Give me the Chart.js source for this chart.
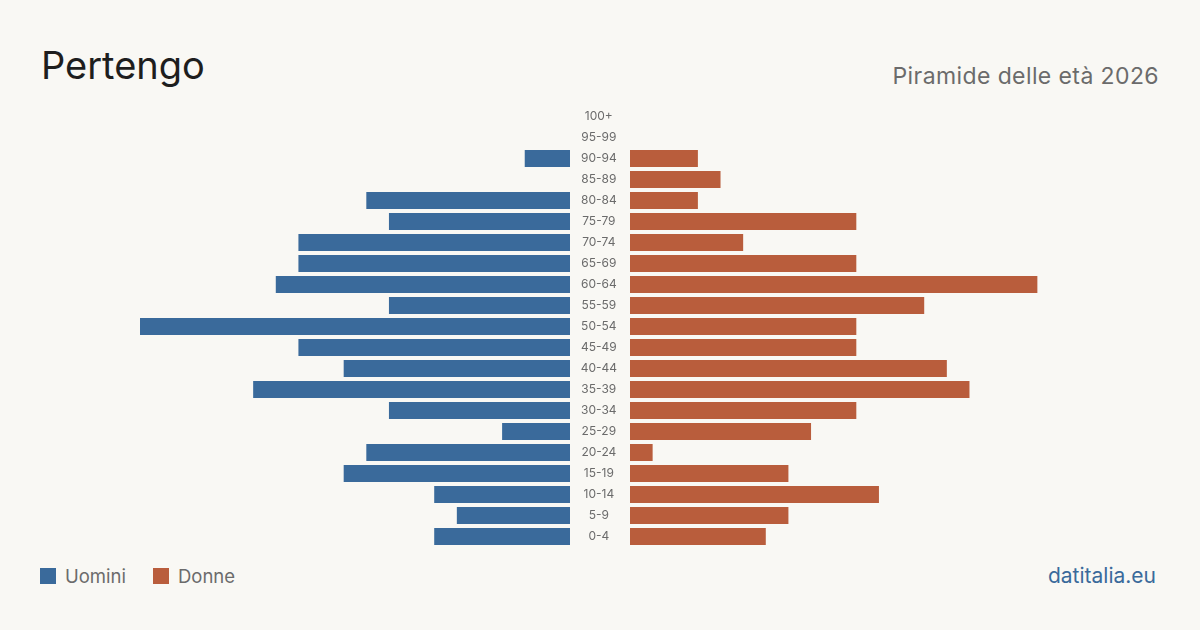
<!DOCTYPE html>
<html>
<head>
<meta charset="utf-8">
<script src="https://cdn.jsdelivr.net/npm/chart.js@4/dist/chart.umd.min.js"></script>
<style>
  body { margin: 0; background: #f9f8f4; font-family: Inter, "Noto Sans", sans-serif; }
  #wrap { position: relative; width: 1200px; height: 630px; overflow: hidden; }
  .title { position: absolute; left: 41px; top: 46px; font-size: 38px; color: #1e1e1e; line-height: 1; }
  .sub { position: absolute; right: 41px; top: 65px; font-size: 23px; letter-spacing: 0.4px; color: #6b6b6b; line-height: 1; }
  .legend { position: absolute; left: 40px; top: 566px; font-size: 18.5px; color: #6b6b6b; display: flex; align-items: center; line-height: 20px; }
  .legend span.box { display: inline-block; width: 16px; height: 16px; margin-right: 9px; }
  .legend .item { display: flex; align-items: center; margin-right: 27px; }
  .site { position: absolute; right: 44px; top: 565px; font-size: 21px; color: #3a6a9b; line-height: 1; }
  #left { position: absolute; left: 140px; top: 106px; }
  #right { position: absolute; left: 570px; top: 106px; }
</style>
</head>
<body>
<div id="wrap">
  <div class="title">Pertengo</div>
  <div class="sub">Piramide delle età 2026</div>
  <canvas id="left" width="430" height="441"></canvas>
  <canvas id="right" width="490" height="441"></canvas>
  <div class="legend">
    <div class="item"><span class="box" style="background:#3a6a9b"></span>Uomini</div>
    <div class="item"><span class="box" style="background:#b95d3c"></span>Donne</div>
  </div>
  <div class="site">datitalia.eu</div>
</div>
<script>
const ageGroups = ['100+', '95-99', '90-94', '85-89', '80-84', '75-79', '70-74', '65-69', '60-64', '55-59',
    '50-54', '45-49', '40-44', '35-39', '30-34', '25-29', '20-24', '15-19', '10-14', '5-9', '0-4'];
const uomini = [0, 0, 2, 0, 9, 8, 12, 12, 13, 8, 19, 12, 10, 14, 8, 3, 9, 10, 6, 5, 6];
const donne  = [0, 0, 3, 4, 3, 10, 5, 10, 18, 13, 10, 10, 14, 15, 10, 8, 1, 7, 11, 7, 6];
const maxValue = 19;

const blue = '#3a6a9b';
const orange = '#b95d3c';

function baseOptions(reverse) {
    return {
        indexAxis: 'y',
        responsive: false,
        animation: false,
        layout: { padding: 0 },
        plugins: { legend: { display: false }, tooltip: { enabled: false } },
        scales: {
            x: { min: 0, max: maxValue, reverse: reverse, display: false },
            y: { display: false }
        }
    };
}

new Chart(document.getElementById('left'), {
    type: 'bar',
    data: {
        labels: ageGroups,
        datasets: [{
            label: 'Uomini',
            data: uomini,
            backgroundColor: blue,
            categoryPercentage: 1,
            barPercentage: 0.81
        }]
    },
    options: baseOptions(true)
});

// age labels sit in the gap between the two halves
const rightOpts = baseOptions(false);
rightOpts.scales.y = {
    display: true,
    grid: { display: false, drawTicks: false },
    border: { display: false },
    ticks: {
        color: '#6b6b6b',
        font: { size: 12, family: 'Inter' },
        crossAlign: 'center',
        padding: 13
    },
    afterFit: (scale) => {
        scale.width = 60;
        scale.paddingTop = 0;
        scale.paddingBottom = 0;
    }
};

new Chart(document.getElementById('right'), {
    type: 'bar',
    data: {
        labels: ageGroups,
        datasets: [{
            label: 'Donne',
            data: donne,
            backgroundColor: orange,
            categoryPercentage: 1,
            barPercentage: 0.81
        }]
    },
    options: rightOpts
});
</script>
</body>
</html>
